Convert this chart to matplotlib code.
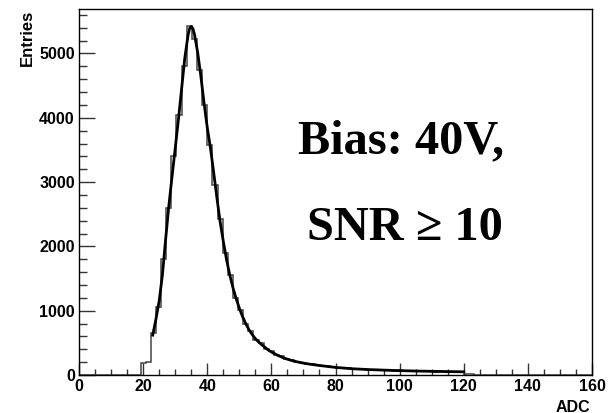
import numpy as np
import matplotlib
matplotlib.use('Agg')
import matplotlib.pyplot as plt
from matplotlib.ticker import MultipleLocator

# Histogram definition (ROOT-like TH1: 100 bins from 0 to 160)
n_bins, x_lo, x_hi = 100, 0.0, 160.0
counts = [0] * 11 + [4, 180, 205, 657, 1050, 1800, 2600, 3400, 4050, 4800, 5420, 5230,
                     4750, 4200, 3580, 2950, 2420, 1900, 1550, 1200, 1010, 790, 680, 545,
                     500, 410, 375, 310, 290, 245, 235, 200, 192, 172, 168, 150, 140, 133,
                     120, 116, 104, 103, 94, 93, 86, 85, 78, 79, 73, 74, 68, 70, 63, 66,
                     60, 63, 56, 59, 53, 57, 51, 54, 48, 50, 22, 8, 3]
counts += [0] * (n_bins - len(counts))

# Fit curve (Landau-like)
fit_x = [23, 24, 25, 26, 27, 28, 29, 30, 31, 32, 33, 34, 34.5, 35, 35.5, 36, 37, 38, 39,
         40, 41, 42, 43, 44, 45, 46, 47, 48, 49, 50, 51, 52, 53, 54, 55, 56, 57, 58, 59,
         60, 62, 64, 66, 68, 70, 72, 75, 80, 85, 90, 95, 100, 105, 110, 115, 120]
fit_y = [620, 870, 1150, 1550, 2100, 2620, 3080, 3520, 3970, 4450, 4930, 5280, 5390, 5420,
         5390, 5300, 5020, 4650, 4230, 3850, 3530, 3150, 2760, 2390, 2080, 1800, 1560, 1360,
         1190, 1040, 910, 800, 705, 630, 565, 515, 470, 430, 390, 358, 305, 262, 230, 205,
         185, 168, 148, 118, 98, 85, 76, 68, 62, 57, 53, 50]

x_label = "ADC"
y_label = "Entries"
line1 = "Bias: 40V,"
line2 = "SNR \u2265 10"

W, H = 612, 413
fig = plt.figure(figsize=(W / 100, H / 100), dpi=100)
ax = fig.add_axes([79 / W, (H - 375) / H, (592 - 79) / W, (375 - 9) / H])

edges = np.linspace(x_lo, x_hi, n_bins + 1)
ax.stairs(counts, edges, color='#444444', lw=1.1)
ax.plot(fit_x, fit_y, color='black', lw=2.0)

ax.set_xlim(0, 160)
ax.set_ylim(0, 5692)

ax.xaxis.set_major_locator(MultipleLocator(20))
ax.xaxis.set_minor_locator(MultipleLocator(5))
ax.yaxis.set_major_locator(MultipleLocator(1000))
ax.yaxis.set_minor_locator(MultipleLocator(200))

ax.tick_params(axis='y', which='major', direction='in', length=11.5, width=1.0,
               color='#333333', pad=3, left=True, right=False)
ax.tick_params(axis='y', which='minor', direction='in', length=5.8, width=1.0,
               color='#333333', left=True, right=False)
ax.tick_params(axis='x', which='major', direction='in', length=8.6, width=1.0,
               color='#333333', pad=3, bottom=True, top=False)
ax.tick_params(axis='x', which='minor', direction='in', length=4.3, width=1.0,
               color='#333333', bottom=True, top=False)

for lab in ax.get_xticklabels() + ax.get_yticklabels():
    lab.set_fontfamily('Liberation Sans')
    lab.set_fontweight('bold')
    lab.set_fontsize(11.5)

for sp in ax.spines.values():
    sp.set_linewidth(1.0)
    sp.set_color('black')

fig.text(27 / W, 1 - 10 / H, y_label, rotation=90, ha='center', va='top',
         fontfamily='Liberation Sans', fontweight='bold', fontsize=12)
fig.text(590 / W, 1 - 407 / H, x_label, ha='right', va='center',
         fontfamily='Liberation Sans', fontweight='bold', fontsize=11.5)

fig.text(298 / W, 1 - 153 / H, line1, ha='left', va='baseline',
         fontfamily=['Liberation Serif', 'DejaVu Serif'], fontweight='bold', fontsize=34.8)
fig.text(307 / W, 1 - 240 / H, line2, ha='left', va='baseline',
         fontfamily=['Liberation Serif', 'DejaVu Serif'], fontweight='bold', fontsize=34.8)

fig.savefig('out.png', dpi=100)
